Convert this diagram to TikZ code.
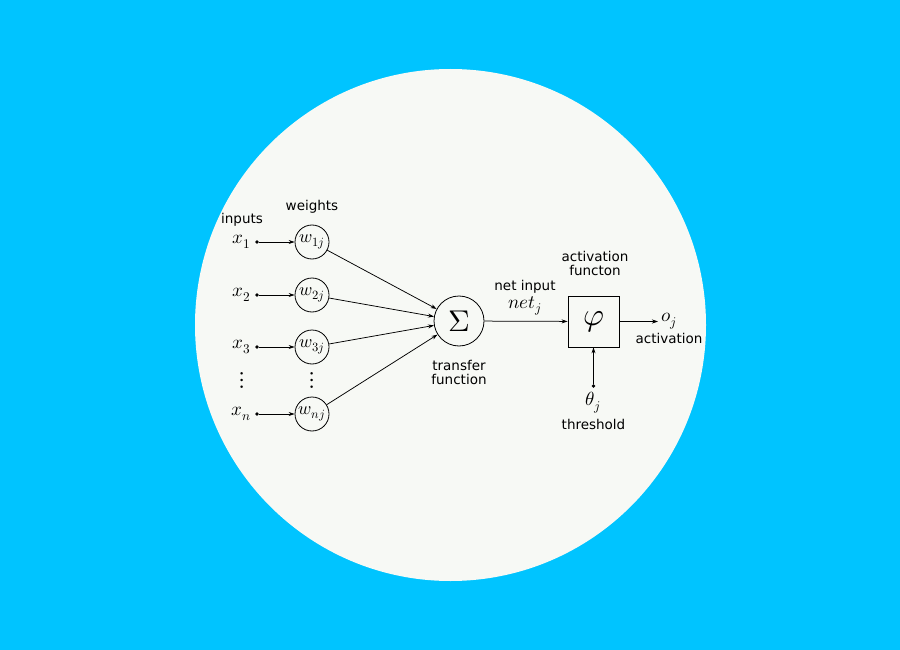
\documentclass[tikz,border=0pt]{standalone}
\usepackage{fontspec}
\setmainfont{DejaVu Sans}
\usepackage{unicode-math}
\setmathfont{Latin Modern Math}
\usetikzlibrary{arrows.meta}
\definecolor{bgcyan}{HTML}{00C4FF}
\definecolor{disc}{HTML}{F7F9F5}
\begin{document}
\begin{tikzpicture}[x=1pt,y=-1pt,
  lab/.style={font=\fontsize{13.5}{15}\selectfont, inner sep=0pt, align=center},
  mth/.style={font=\fontsize{19}{21}\selectfont, inner sep=0pt},
  wnode/.style={circle, draw, line width=0.8pt, minimum size=34pt, inner sep=0pt, font=\fontsize{18}{20}\selectfont},
  src/.style={circle, fill=black, inner sep=0pt, minimum size=3.8pt},
  arr/.style={line width=0.75pt, -{Stealth[length=6pt,width=4pt]}},
  ln/.style={line width=0.7pt}]
\fill[bgcyan] (0,0) rectangle (900,650);
\useasboundingbox (0,0) rectangle (900,650);
\fill[disc] (450.5,325) ellipse [x radius=255.5, y radius=256];

% labels
\node[lab] (inputs) at (242,220) {inputs};
\node[lab] (weights) at (312,207) {weights};

% inputs
\foreach \i/\y/\s in {1/242/1, 2/295/2, 3/347/3, n/414/n}{
  \node[mth, anchor=east] (x\i) at (251,\y) {$x_{\s}$};
  \node[src] (d\i) at (257,\y) {};
  \node[wnode] (w\i) at (312,\y) {$w_{\s j}$};
  \draw[arr] (d\i) -- (w\i);
}
\node[font=\fontsize{24}{26}\selectfont\bfseries, inner sep=0pt] (vd1) at (242,380) {$\vdots$};
\node[font=\fontsize{24}{26}\selectfont\bfseries, inner sep=0pt] (vd2) at (312,380) {$\vdots$};

% summation
\node[circle, draw, line width=0.8pt, minimum size=50pt, inner sep=0pt, font=\fontsize{30}{32}\selectfont] (sum) at (459,321) {$\Sigma$};
\foreach \i in {1,2,3,n}{
  \draw[arr] (w\i) -- (sum);
}
\node[lab] (tf) at (459,372) {transfer\\[-1pt]function};

% activation box
\node[draw, line width=0.8pt, minimum size=51pt, inner sep=0pt, font=\fontsize{32}{34}\selectfont] (phi) at (593.5,321.5) {$\varphi$};
\draw[arr] (sum) -- (phi);
\node[lab] (ni) at (525,287) {net input};
\node[mth] (net) at (525,306) {$net_j$};
\node[lab] (af) at (595,263) {activation\\[-1pt]functon};

% output
\coordinate (outend) at (658,321.5);
\draw[arr] (phi) -- (outend);
\node[mth] (oj) at (669,321) {$o_j$};
\node[lab] (act) at (669,338) {activation};

% threshold
\node[src] (th) at (593.5,386) {};
\draw[arr] (th) -- (phi);
\node[mth] (theta) at (593.5,403) {$\theta_j$};
\node[lab] (thr) at (593.5,424) {threshold};
\end{tikzpicture}
\end{document}
